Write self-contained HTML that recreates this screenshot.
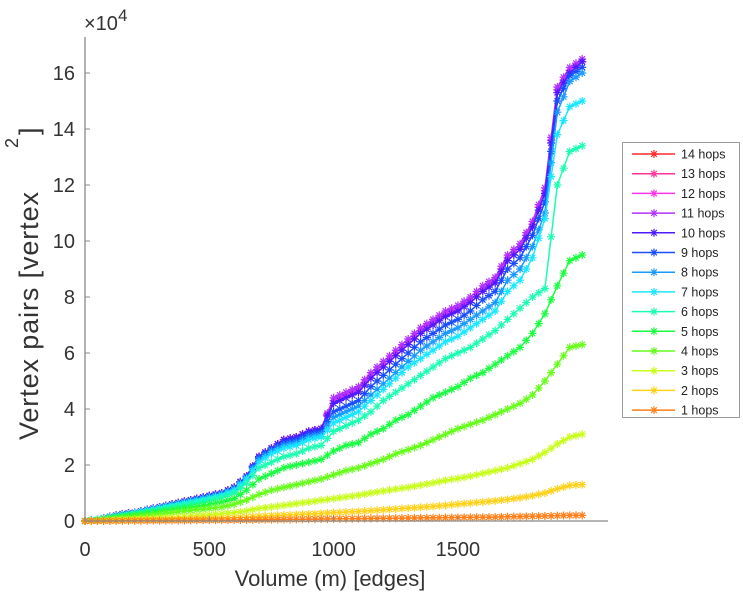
<!DOCTYPE html>
<html><head><meta charset="utf-8"><style>
body{margin:0;background:#fff;}
svg{display:block;font-family:"Liberation Sans",sans-serif;}
</style></head><body>
<svg id="chart" width="743" height="600"></svg>
<script>
const xValues=[0,50,100,150,200,250,300,350,400,450,500,550,600,650,700,750,800,850,900,950,1000,1050,1100,1150,1200,1250,1300,1350,1400,1450,1500,1550,1600,1650,1700,1750,1800,1850,1900,1950,2000];
const h14=[0,.05,.15,.25,.3,.4,.5,.6,.7,.8,.9,1.0,1.2,1.6,2.3,2.6,2.9,3.0,3.2,3.3,4.3,4.5,4.7,5.2,5.6,6.0,6.4,6.8,7.1,7.4,7.6,7.9,8.3,8.6,9.4,9.8,10.6,11.8,15.4,16.1,16.4];
const h13=[0,.05,.15,.25,.3,.4,.5,.6,.7,.8,.9,1.0,1.2,1.6,2.3,2.6,2.9,3.0,3.2,3.3,4.3,4.5,4.7,5.2,5.6,6.0,6.4,6.8,7.1,7.4,7.6,7.9,8.3,8.6,9.4,9.8,10.6,11.8,15.4,16.1,16.4];
const h12=[0,.05,.15,.25,.3,.4,.5,.6,.7,.8,.9,1.0,1.2,1.6,2.3,2.6,2.9,3.0,3.2,3.3,4.3,4.5,4.7,5.2,5.6,6.0,6.4,6.8,7.1,7.4,7.6,7.9,8.3,8.6,9.4,9.8,10.6,11.8,15.4,16.1,16.4];
const h11=[0,.05,.15,.25,.3,.4,.5,.6,.7,.8,.9,1.0,1.2,1.6,2.3,2.6,2.9,3.0,3.2,3.3,4.4,4.6,4.8,5.3,5.7,6.1,6.5,6.9,7.2,7.5,7.7,8.0,8.4,8.7,9.5,9.9,10.7,11.9,15.5,16.2,16.5];
const h10=[0,.05,.15,.25,.3,.4,.5,.6,.7,.8,.9,1.0,1.2,1.6,2.3,2.6,2.9,3.0,3.2,3.3,4.2,4.4,4.6,5.1,5.5,5.9,6.3,6.7,7.0,7.3,7.5,7.8,8.2,8.5,9.3,9.7,10.5,11.7,15.3,16.0,16.4];
const h9=[0,.05,.15,.24,.3,.4,.49,.59,.69,.78,.88,.98,1.18,1.58,2.25,2.55,2.8,2.9,3.1,3.2,3.9,4.1,4.3,4.8,5.2,5.6,6.0,6.4,6.7,7.0,7.2,7.5,7.9,8.2,9.0,9.4,10.2,11.4,15.0,15.9,16.2];
const h8=[0,.05,.14,.23,.29,.38,.48,.57,.67,.75,.85,.95,1.14,1.54,2.2,2.5,2.7,2.8,3.0,3.1,3.7,3.9,4.1,4.5,4.9,5.3,5.7,6.1,6.4,6.7,6.9,7.2,7.5,7.8,8.6,9.0,9.8,11.0,14.6,15.7,16.0];
const h7=[0,.05,.14,.22,.28,.37,.46,.55,.64,.72,.82,.92,1.1,1.5,2.1,2.4,2.6,2.7,2.9,3.0,3.5,3.7,3.9,4.3,4.7,5.1,5.5,5.8,6.1,6.4,6.6,6.9,7.2,7.5,8.2,8.6,9.4,10.8,13.8,14.8,15.0];
const h6=[0,.04,.12,.2,.26,.34,.42,.5,.58,.66,.75,.85,1.0,1.35,1.9,2.1,2.3,2.4,2.6,2.7,3.2,3.4,3.6,3.9,4.3,4.6,4.9,5.2,5.5,5.8,6.0,6.2,6.5,6.8,7.2,7.6,8.0,8.3,12.0,13.2,13.4];
const h5=[0,.04,.1,.16,.22,.28,.34,.4,.46,.52,.6,.68,.8,1.1,1.5,1.7,1.9,2.0,2.1,2.2,2.5,2.7,2.8,3.1,3.3,3.6,3.8,4.1,4.4,4.6,4.8,5.1,5.3,5.6,5.9,6.2,6.7,7.4,8.4,9.3,9.5];
const h4=[0,.03,.07,.11,.15,.2,.25,.3,.35,.4,.45,.5,.6,.75,.95,1.1,1.2,1.3,1.4,1.5,1.65,1.8,1.9,2.05,2.2,2.4,2.55,2.7,2.9,3.1,3.3,3.45,3.6,3.8,4.0,4.2,4.5,5.0,5.6,6.2,6.3];
const h3=[0,.01,.03,.05,.07,.09,.11,.13,.16,.19,.22,.26,.3,.36,.45,.5,.56,.62,.68,.74,.8,.86,.92,1.0,1.07,1.14,1.2,1.28,1.36,1.45,1.52,1.6,1.7,1.8,1.9,2.05,2.2,2.45,2.75,3.0,3.1];
const h2=[0,0,.01,.02,.03,.04,.05,.06,.07,.08,.09,.1,.12,.14,.17,.19,.21,.23,.25,.27,.3,.32,.34,.37,.4,.43,.46,.49,.52,.56,.6,.64,.68,.72,.77,.83,.9,1.0,1.15,1.27,1.3];
const h1=[0,0,0,.005,.01,.01,.015,.02,.02,.025,.03,.03,.035,.04,.045,.05,.055,.06,.065,.07,.075,.08,.085,.09,.095,.1,.105,.11,.115,.12,.125,.13,.135,.14,.15,.16,.17,.18,.19,.2,.2];
const seriesNames=["14 hops","13 hops","12 hops","11 hops","10 hops","9 hops","8 hops","7 hops","6 hops","5 hops","4 hops","3 hops","2 hops","1 hops"];
const seriesData=[h14,h13,h12,h11,h10,h9,h8,h7,h6,h5,h4,h3,h2,h1];
const seriesColors=["#ff2a2a","#ff3399","#ff33e6","#b233ff","#4d1aff","#1a4dff","#1a99ff","#1ae6ff","#1affb0","#1aff40","#66ff1a","#c8ff1a","#ffd21a","#ff801a"];
const xTicks=[0,500,1000,1500];
const yTicks=[0,2,4,6,8,10,12,14,16];

const NS="http://www.w3.org/2000/svg";
const svg=document.getElementById('chart');
const X0=85,XS=0.2486,Y0=521,YS=28;
const sx=v=>X0+v*XS, sy=v=>Y0-v*YS;
function mk(tag,attrs,parent){const e=document.createElementNS(NS,tag);for(const k in attrs)e.setAttribute(k,attrs[k]);(parent||svg).appendChild(e);return e;}
function star(g,x,y,c,r){
  let d='';
  for(let a=0;a<4;a++){const t=a*Math.PI/4;d+=`M${x-r*Math.cos(t)},${y-r*Math.sin(t)}L${x+r*Math.cos(t)},${y+r*Math.sin(t)}`;}
  mk('path',{d:d,stroke:c,'stroke-width':1.2,fill:'none'},g);
}
for(let s=0;s<seriesData.length;s++){
  const g=mk('g',{});
  
  
  const pts=seriesData[s].map((v,i)=>sx(xValues[i])+','+sy(v)).join(' ');
  mk('polyline',{points:pts,fill:'none',stroke:seriesColors[s],'stroke-width':1.5},g);
  seriesData[s].forEach((v,i)=>{
    star(g,sx(xValues[i]),sy(v),seriesColors[s],4);
    if(i<seriesData[s].length-1){
      const xm=(xValues[i]+xValues[i+1])/2, vm=(v+seriesData[s][i+1])/2;
      star(g,sx(xm),sy(vm),seriesColors[s],4);
    }
  });
}
const ax=mk('g',{});


mk('line',{x1:X0,y1:37,x2:X0,y2:Y0,stroke:'#888','stroke-width':1.3},ax);
mk('line',{x1:X0,y1:Y0,x2:608,y2:Y0,stroke:'#888','stroke-width':1.3},ax);
yTicks.forEach(t=>{
  mk('line',{x1:X0,y1:sy(t),x2:X0+5,y2:sy(t),stroke:'#888'},ax);
  const tx=mk('text',{x:75,y:sy(t)+7,'text-anchor':'end','font-size':20,fill:'#333'},ax);
  
  
  tx.textContent=t;
});
xTicks.forEach(t=>{
  mk('line',{x1:sx(t),y1:Y0,x2:sx(t),y2:Y0-5,stroke:'#888'},ax);
  const tx=mk('text',{x:sx(t),y:556,'text-anchor':'middle','font-size':20,fill:'#333'},ax);
  
  
  tx.textContent=t;
});
</script>
<svg style="position:absolute;left:0;top:0" width="743" height="600">
  <text x="84" y="30" font-size="20" fill="#333" font-family="Liberation Sans, sans-serif">×10<tspan dy="-9" font-size="17">4</tspan></text>
  <text x="330" y="586" text-anchor="middle" font-size="22" fill="#333" font-family="Liberation Sans, sans-serif">Volume (m) [edges]</text>
  <g transform="translate(38,440) rotate(-90)" font-family="Liberation Sans, sans-serif" fill="#333">
    <text x="0" y="0" font-size="27" textLength="248">Vertex pairs [vertex</text>
    <text x="292" y="-20" font-size="18">2</text>
    <text x="305" y="0" font-size="27">]</text>
  </g>
</svg>
<div style="position:absolute;left:622px;top:142px;width:116px;height:274px;border:1px solid #999;background:#fff;font-family:'Liberation Sans',sans-serif;">
<svg width="116" height="274" id="leg"></svg>
</div>
<script>
const leg=document.getElementById('leg');
seriesNames.forEach((n,i)=>{
  const y=11+i*19.7;
  const g=document.createElementNS(NS,'g');
  
  
  leg.appendChild(g);
  mk('line',{x1:9,y1:y,x2:52,y2:y,stroke:seriesColors[i],'stroke-width':1.5},g);
  star(g,31,y,seriesColors[i],4);
  const t=mk('text',{x:58,y:y+4.5,'font-size':12.5,fill:'#222'},g);
  t.textContent=n;
});
</script>
</body></html>
